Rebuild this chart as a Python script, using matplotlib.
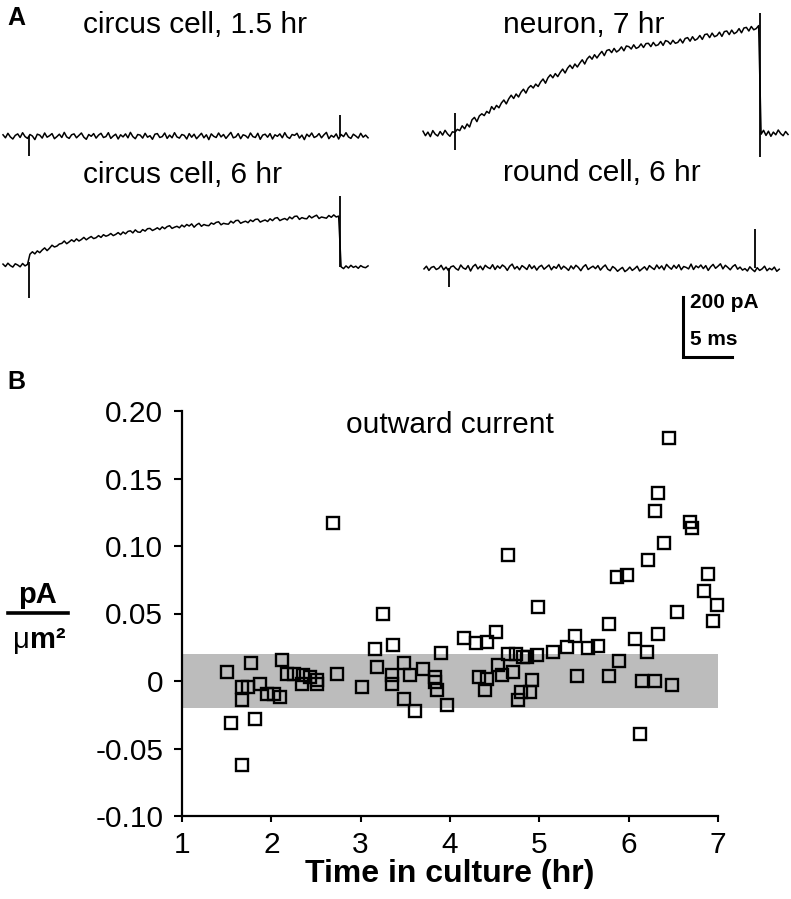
import numpy as np
import matplotlib
matplotlib.use("Agg")
import matplotlib.pyplot as plt
from matplotlib.lines import Line2D

plt.rcParams['font.family'] = ['Liberation Sans', 'DejaVu Sans']

# ---------------- data ----------------
# Panel A: current traces (pA), sampled every 0.25 ms
SAMPLE_MS = 0.25
trace_circus_15 = [4, -6, 9, -3, -10, 2, 7, -5, 11, -2,
                   -8, 5, 0, -12, 6, 3, -7, 10, -4, 1,
                   8, -9, -2, 6, -5, 12, -3, -8, 4, 7,
                   -6, 2, 10, -4, -11, 5, -1, 8, -7, 3,
                   9, -5, -2, 11, -8, 0, 6, -10, 4, -3,
                   7, -6, 12, -2, -9, 5, 3, -7, 9, -4,
                   1, -11, 6, 8, -5, -2, 10, -8, 3, -6,
                   11, -3, -7, 5, 2, -10, 8, -4, 6, -9,
                   0, 9, -6, 4, -12, 7, -1, -5, 10, -3,
                   5, -8, 2, 12, -6, -3, 8, -9, 4, 1,
                   -7, 10, -2, -5, 9, -11, 3, 6, -4, 8,
                   -10, 4, -1, 7, -6, 11, -3, -8, 5, 2,
                   9, -7, 3, -12, 6, -2, 10, -5, -1, 8,
                   -6, 4, 12, -9, 2, -4, 7, -10, 5, -2,
                   11, -3, -8, 6, 0, -7, 9, -4, 3, -6]
trace_circus_6 = [3, -5, 6, -2, -7, 4, 0, -6, 5, -3, 2,
                  36,
                  44, 37, 47, 41, 50, 57, 48, 56, 66, 60, 63, 70,
                  72, 80, 71, 77, 84, 78, 87, 80, 85, 92, 84, 90,
                  95, 88, 91, 98, 92, 101, 96, 99, 105, 98, 102, 108,
                  101, 110, 104, 112, 114, 107, 117, 110, 109, 118, 113, 121,
                  122, 115, 119, 124, 118, 127, 121, 128, 131, 122, 126, 129,
                  124, 133, 127, 135, 130, 137, 126, 134, 139, 129, 135, 132,
                  131, 140, 136, 142, 144, 134, 139, 137, 136, 146, 140, 148,
                  149, 139, 143, 146, 141, 150, 145, 152, 153, 143, 147, 150,
                  145, 154, 148, 156, 158, 148, 152, 155, 150, 160, 154, 162,
                  163, 152, 158, 155, 154, 164, 157, 162, 166, 155, 160, 158,
                  156, 165, 159, 167, 160, 163,
                  -6, -12, -3, -10, -1, -8, -4, -11, -2, -7, -9, -3]
trace_neuron_7 = [6, -9, 3, -12, 8, -4, -10, 5, -7, 9, -3, -11, 4,
                  2, 12, 8,
                  24, 14, 30, 20, 44, 52, 38, 57, 64, 58, 72, 66,
                  88, 78, 92, 84, 100, 110, 97, 114, 126, 115, 130, 120,
                  136, 146, 133, 150, 158, 150, 163, 155, 170, 180, 166, 184,
                  194, 184, 198, 188, 202, 213, 200, 216, 226, 215, 230, 220,
                  233, 244, 230, 247, 256, 246, 261, 250, 262, 272, 258, 275,
                  278, 268, 282, 270, 276, 287, 274, 290, 288, 280, 294, 282,
                  286, 297, 285, 298, 299, 288, 302, 291, 294, 305, 292, 308,
                  305, 296, 309, 299, 302, 313, 300, 315, 318, 306, 321, 309,
                  314, 325, 312, 328, 330, 318, 333, 321, 325, 336, 322, 338,
                  340, 328, 343, 331, 336, 348, 334, 350, 352, 340, 355, 344,
                  348, 358,
                  -4, 9, -8, 6, -11, 3, -6, 10, -2, -9, 5, -5]
trace_round_6 = [-3, 6, -8, 2, 5, -5, -1, 9, -6, 3,
                 -9, 4, 7, -2, -7, 10, 0, -4, 8, -10,
                 5, 12, -3, 6, -6, 9, 2, -2, 11, -5,
                 7, -1, 10, 4, -8, 6, 13, -3, 5, -6,
                 8, 2, -5, 11, -2, 7, -7, 4, 9, -4,
                 3, 10, -6, 5, -1, 12, -4, 6, 0, -8,
                 7, -3, 9, 2, -9, 4, 11, -5, 1, 6,
                 -2, 8, -7, 3, 10, -4, -9, 5, -1, -11,
                 -4, 2, -12, -6, 3, -8, -2, 6, -10, -3,
                 4, -7, 8, 1, -5, 10, -2, 7, -6, 12,
                 3, -4, 9, -1, 11, -6, 5, 2, -3, 13,
                 -5, 7, 1, 10, -2, 8, -8, 4, 12, -1,
                 6, 14, -3, 9, 2, -6, 5, 11, -4, 3,
                 -7, -2, -10, 4, -5, -12, 1, -8, -3, 6,
                 -9, -1, -6, 3, -11, -4]
# capacitive artifacts: time (ms), low (pA), high (pA)
spikes_circus_15 = ([2.65, 34.4], [-65, 0], [0, 70])
spikes_circus_6 = ([2.65, 34.4], [-110, -5], [10, 230])
spikes_neuron_7 = ([3.27, 34.4], [-57, -80], [67, 400])
spikes_round_6 = ([2.55, 33.8], [-63, 0], [0, 130])
trace_titles = ["circus cell, 1.5 hr", "circus cell, 6 hr",
                "neuron, 7 hr", "round cell, 6 hr"]
SCALE_PA = 200
SCALE_MS = 5

# Panel B: outward current density vs time in culture
time_hr = [1.50, 1.55, 1.67, 1.67, 1.67, 1.74, 1.77, 1.82, 1.87, 1.95,
           2.03, 2.10, 2.12, 2.18, 2.25, 2.35, 2.43, 2.34, 2.51, 2.51,
           2.69, 2.73,
           3.01, 3.16, 3.18, 3.25, 3.36, 3.35, 3.35, 3.48, 3.48, 3.55,
           3.61, 3.70, 3.83, 3.83, 3.85, 3.90, 3.97,
           4.16, 4.29, 4.32, 4.41, 4.39, 4.41, 4.51, 4.54, 4.58, 4.65,
           4.65, 4.71, 4.74, 4.82, 4.86, 4.80, 4.89, 4.76, 4.92, 4.97,
           4.98, 5.15,
           5.31, 5.40, 5.42, 5.54, 5.66, 5.78, 5.78, 5.87, 5.89, 5.98,
           6.07, 6.13, 6.15, 6.20, 6.22, 6.30, 6.30, 6.33, 6.33, 6.40,
           6.45, 6.48, 6.54, 6.69, 6.71, 6.84, 6.89, 6.94, 6.99]
current_density = [0.007, -0.031, -0.062, -0.014, -0.0045, -0.0045, 0.013, -0.028, -0.002, -0.0095,
                   -0.0095, -0.012, 0.0155, 0.0055, 0.0055, 0.0043, 0.003, -0.002, 0.0005, -0.002,
                   0.117, 0.0055,
                   -0.0045, 0.024, 0.0105, 0.0495, 0.027, 0.0043, -0.002, 0.013, -0.013, 0.0043,
                   -0.022, 0.009, 0.003, -0.0007, -0.007, 0.021, -0.018,
                   0.032, 0.028, 0.003, 0.0017, -0.007, 0.0286, 0.036, 0.0117, 0.0043, 0.020,
                   0.093, 0.0067, 0.020, 0.018, 0.018, -0.008, -0.008, -0.0144, 0.0005, 0.0196,
                   0.055, 0.0216,
                   0.025, 0.033, 0.0035, 0.0246, 0.026, 0.042, 0.0035, 0.077, 0.015, 0.0786,
                   0.031, -0.039, 0.0, 0.0216, 0.090, 0.0, 0.126, 0.139, 0.0346, 0.102,
                   0.180, -0.0027, 0.051, 0.118, 0.113, 0.067, 0.079, 0.0445, 0.056]
band_low, band_high = -0.02, 0.02
x_ticks = [1, 2, 3, 4, 5, 6, 7]
y_ticks = [-0.10, -0.05, 0.0, 0.05, 0.10, 0.15, 0.20]
y_ticklabels = ["-0.10", "-0.05", "0", "0.05", "0.10", "0.15", "0.20"]

# ---------------- layout helpers ----------------
W, H = 791, 899
fig = plt.figure(figsize=(W / 100, H / 100), dpi=100)


def fx(px):
    return px / W


def fy(py):
    return 1 - py / H


PX_PER_MS = 9.8
PX_PER_PA = 0.3
X_RANGE = (0, 38)
Y_RANGE = (-320, 420)


def trace_axes(left_px, base_px):
    w = (X_RANGE[1] - X_RANGE[0]) * PX_PER_MS
    h = (Y_RANGE[1] - Y_RANGE[0]) * PX_PER_PA
    bottom_px = base_px - Y_RANGE[0] * PX_PER_PA
    ax = fig.add_axes([fx(left_px), fy(bottom_px), w / W, h / H])
    ax.set_xlim(*X_RANGE)
    ax.set_ylim(*Y_RANGE)
    ax.axis('off')
    ax.patch.set_alpha(0)
    return ax


def draw_trace(ax, values, spikes):
    t = np.arange(len(values)) * SAMPLE_MS
    ax.plot(t, values, color='black', lw=1.1, clip_on=False)
    st, lo, hi = spikes
    ax.vlines(st, lo, hi, color='black', lw=1.3, clip_on=False)


traces = [
    (trace_circus_15, spikes_circus_15, 3, 136),
    (trace_circus_6, spikes_circus_6, 3, 265),
    (trace_neuron_7, spikes_neuron_7, 423, 133),
    (trace_round_6, spikes_round_6, 424, 268),
]
trace_ax = []
for vals, sp, lpx, bpx in traces:
    a = trace_axes(lpx, bpx)
    draw_trace(a, vals, sp)
    trace_ax.append(a)

# titles of traces
fig.text(fx(83), fy(33), trace_titles[0], fontsize=21.5, va='baseline', ha='left')
fig.text(fx(83), fy(183), trace_titles[1], fontsize=21.5, va='baseline', ha='left')
fig.text(fx(503), fy(33), trace_titles[2], fontsize=21.5, va='baseline', ha='left')
fig.text(fx(503), fy(181), trace_titles[3], fontsize=21.5, va='baseline', ha='left')

# scale bar in round-cell axes coordinates
sa = trace_ax[3]
sb_t = (683 - 424) / PX_PER_MS
sb_top = -(297 - 268) / PX_PER_PA
sa.plot([sb_t, sb_t, sb_t + SCALE_MS], [sb_top, sb_top - SCALE_PA, sb_top - SCALE_PA],
        color='black', lw=2.2, clip_on=False, solid_joinstyle='miter')
fig.text(fx(690), fy(308), f"{SCALE_PA} pA", fontsize=15, fontweight='bold', va='baseline')
fig.text(fx(690), fy(345), f"{SCALE_MS} ms", fontsize=15, fontweight='bold', va='baseline')

# panel letters
fig.text(fx(7), fy(25), "A", fontsize=18, fontweight='bold', va='baseline')
fig.text(fx(7), fy(389), "B", fontsize=18, fontweight='bold', va='baseline')

# ---------------- panel B ----------------
ax = fig.add_axes([fx(182), fy(816), (718 - 182) / W, (816 - 411) / H])
ax.set_xlim(1, 7)
ax.set_ylim(-0.10, 0.20)
ax.fill_between([1, 7], band_low, band_high, color='#bcbcbc', lw=0, zorder=1)
ax.plot(time_hr, current_density, linestyle='none', marker='s', markersize=8,
        markerfacecolor='none', markeredgecolor='black', markeredgewidth=1.7,
        clip_on=False, zorder=3)
for s in ['top', 'right']:
    ax.spines[s].set_visible(False)
for s in ['left', 'bottom']:
    ax.spines[s].set_linewidth(1.6)
ax.set_xticks(x_ticks)
ax.set_xticklabels([str(v) for v in x_ticks])
ax.set_yticks(y_ticks)
ax.set_yticklabels(y_ticklabels)
ax.tick_params(axis='y', direction='out', length=5.5, width=1.5, labelsize=21.5, pad=8)
ax.tick_params(axis='x', direction='out', length=4.5, width=1.5, labelsize=21.5, pad=6)
ax.set_xlabel("Time in culture (hr)", fontsize=23, fontweight='bold', labelpad=0)
ax.text(0.5, 1.0, "outward current", transform=ax.transAxes, ha='center', va='top',
        fontsize=21.5)

# y label: pA / um^2
fig.text(fx(37), fy(603), "pA", fontsize=21, fontweight='bold', ha='center', va='baseline')
fig.add_artist(Line2D([fx(8), fx(68)], [fy(613), fy(613)], color='black', lw=2.6))
fig.text(fx(13), fy(648), "\u03bc", fontsize=21, ha='left', va='baseline')
fig.text(fx(30), fy(648), "m\u00b2", fontsize=21, fontweight='bold', ha='left', va='baseline')

fig.savefig("out.png", dpi=100)
